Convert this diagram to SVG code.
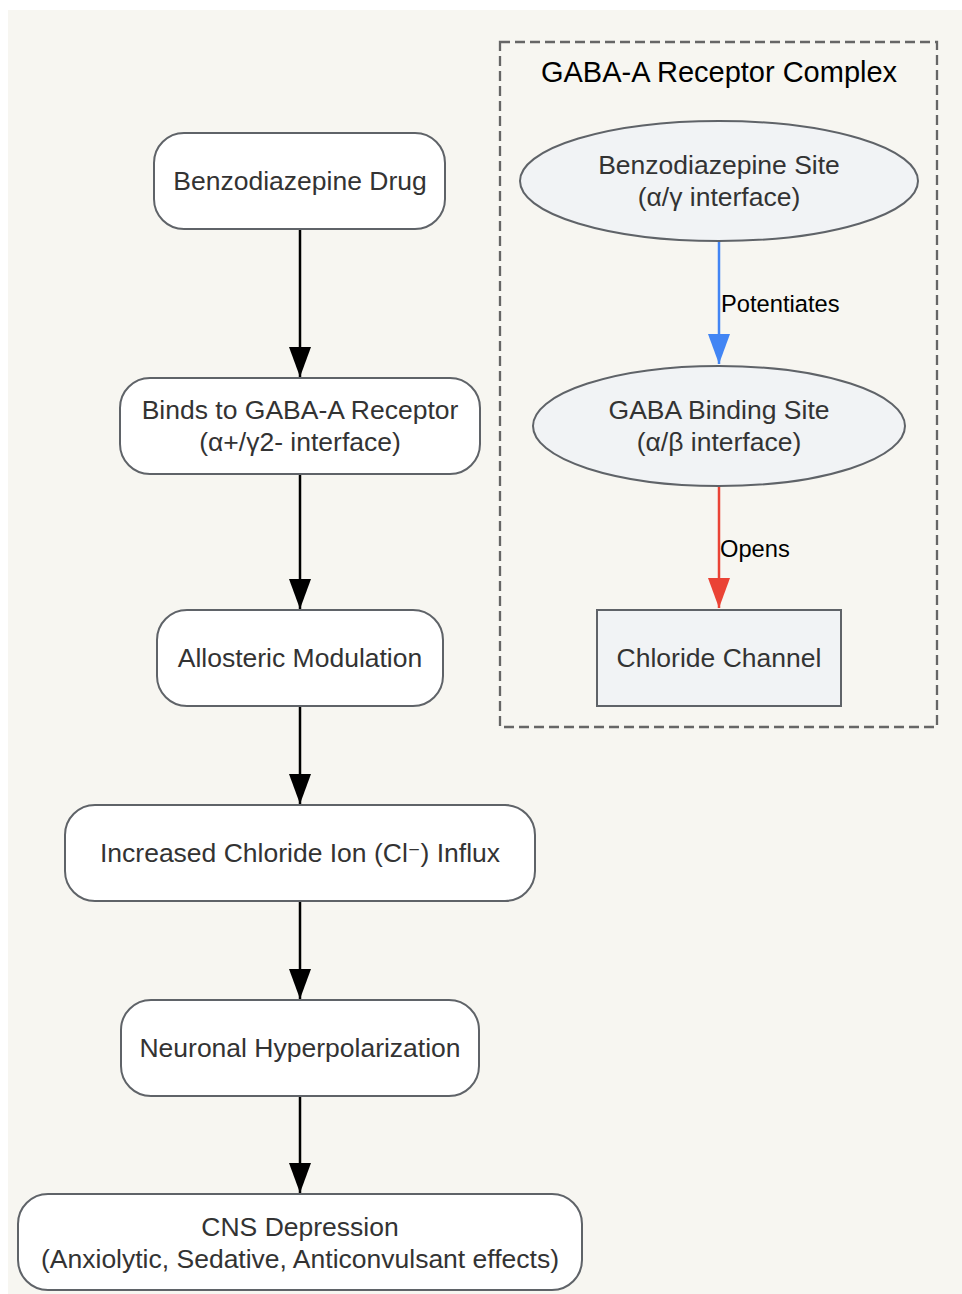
<svg xmlns="http://www.w3.org/2000/svg" width="962" height="1294" viewBox="0 0 962 1294">
<style>
text{font-family:"Liberation Sans",Arial,sans-serif;}
.node rect.r{fill:#ffffff;stroke:#5f6368;stroke-width:2;}
.node .site{fill:#f1f3f5;stroke:#5f6368;stroke-width:2;}
.nt{font-size:26.5px;fill:#333333;text-anchor:middle;dominant-baseline:central;}
.el{font-size:23.7px;fill:#000000;dominant-baseline:central;}
.edge{fill:none;stroke-width:2.5;}
</style>
<defs>
<marker id="ah" markerUnits="userSpaceOnUse" markerWidth="30" markerHeight="22" refX="30" refY="11" orient="auto"><path d="M0,0 L30,11 L0,22 z" fill="#000000"/></marker>
<marker id="ahb" markerUnits="userSpaceOnUse" markerWidth="30" markerHeight="22" refX="30" refY="11" orient="auto"><path d="M0,0 L30,11 L0,22 z" fill="#4285f4"/></marker>
<marker id="ahr" markerUnits="userSpaceOnUse" markerWidth="30" markerHeight="22" refX="30" refY="11" orient="auto"><path d="M0,0 L30,11 L0,22 z" fill="#ea4335"/></marker>
</defs>
<rect x="8" y="10" width="954" height="1284" fill="#f7f6f1"/>
<g id="cluster-gaba">
<rect x="500" y="42" width="437" height="685" fill="none" stroke="#666666" stroke-width="2.3" stroke-dasharray="10,5"/>
<text x="719" y="72" font-size="29px" fill="#000000" text-anchor="middle" dominant-baseline="central">GABA-A Receptor Complex</text>
</g>
<g id="connectors">
<line class="edge" x1="300" y1="229" x2="300" y2="377" stroke="#000000" marker-end="url(#ah)"/>
<line class="edge" x1="300" y1="474" x2="300" y2="609" stroke="#000000" marker-end="url(#ah)"/>
<line class="edge" x1="300" y1="706" x2="300" y2="804" stroke="#000000" marker-end="url(#ah)"/>
<line class="edge" x1="300" y1="901" x2="300" y2="999" stroke="#000000" marker-end="url(#ah)"/>
<line class="edge" x1="300" y1="1096" x2="300" y2="1193" stroke="#000000" marker-end="url(#ah)"/>
<line class="edge" x1="719" y1="241" x2="719" y2="364" stroke="#4285f4" marker-end="url(#ahb)"/>
<text class="el" x="721" y="304">Potentiates</text>
<line class="edge" x1="719" y1="486" x2="719" y2="608" stroke="#ea4335" marker-end="url(#ahr)"/>
<text class="el" x="720" y="549">Opens</text>
</g>
<g id="node-drug" class="node">
<rect class="r" x="154" y="133" width="291" height="96" rx="30"/>
<text class="nt" x="300" y="181">Benzodiazepine Drug</text>
</g>
<g id="node-binds" class="node">
<rect class="r" x="120" y="378" width="360" height="96" rx="30"/>
<text class="nt" x="300" y="410">Binds to GABA-A Receptor</text>
<text class="nt" x="300" y="442">(α+/γ2- interface)</text>
</g>
<g id="node-allosteric" class="node">
<rect class="r" x="157" y="610" width="286" height="96" rx="30"/>
<text class="nt" x="300" y="658">Allosteric Modulation</text>
</g>
<g id="node-influx" class="node">
<rect class="r" x="65" y="805" width="470" height="96" rx="30"/>
<text class="nt" x="300" y="853">Increased Chloride Ion (Cl<tspan font-family="'DejaVu Sans',sans-serif" font-size="24px">⁻</tspan>) Influx</text>
</g>
<g id="node-hyper" class="node">
<rect class="r" x="121" y="1000" width="358" height="96" rx="30"/>
<text class="nt" x="300" y="1048">Neuronal Hyperpolarization</text>
</g>
<g id="node-cns" class="node">
<rect class="r" x="18" y="1194" width="564" height="96" rx="30"/>
<text class="nt" x="300" y="1227">CNS Depression</text>
<text class="nt" x="300" y="1259">(Anxiolytic, Sedative, Anticonvulsant effects)</text>
</g>
<g id="node-bzsite" class="node">
<ellipse class="site" cx="719" cy="181" rx="199" ry="60"/>
<text class="nt" x="719" y="165">Benzodiazepine Site</text>
<text class="nt" x="719" y="197">(α/γ interface)</text>
</g>
<g id="node-gabasite" class="node">
<ellipse class="site" cx="719" cy="426" rx="186" ry="60"/>
<text class="nt" x="719" y="410">GABA Binding Site</text>
<text class="nt" x="719" y="442">(α/β interface)</text>
</g>
<g id="node-channel" class="node">
<rect class="site" x="597" y="610" width="244" height="96"/>
<text class="nt" x="719" y="658">Chloride Channel</text>
</g>
</svg>
